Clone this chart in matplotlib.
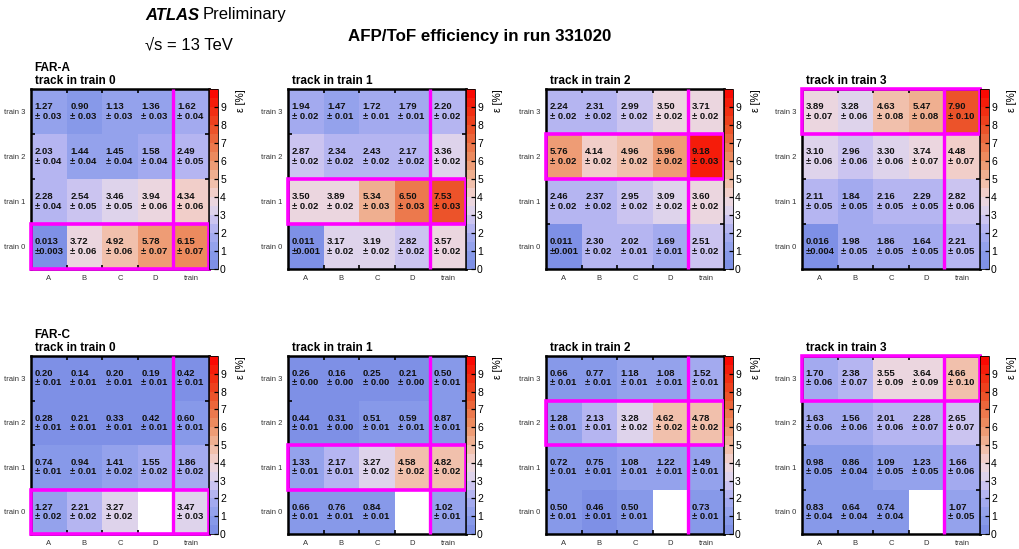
import numpy as np
import matplotlib
matplotlib.use("Agg")
import matplotlib.pyplot as plt
from matplotlib.colors import LinearSegmentedColormap, ListedColormap, BoundaryNorm
from matplotlib.patches import Rectangle

plt.rcParams['font.family'] = ['Liberation Sans', 'DejaVu Sans']

# columns / rows of every panel
col_labels = ['A', 'B', 'C', 'D', 'train']
row_labels = ['train 0', 'train 1', 'train 2', 'train 3']
stations = ['FAR-A', 'FAR-C']
nan = np.nan

# efficiency [%], rows = train 0..3, cols = A B C D train
far_a_t0 = [[0.013, 3.72, 4.92, 5.78, 6.15],
            [2.28, 2.54, 3.46, 3.94, 4.34],
            [2.03, 1.44, 1.45, 1.58, 2.49],
            [1.27, 0.90, 1.13, 1.36, 1.62]]
far_a_t0_err = [[0.003, 0.06, 0.06, 0.07, 0.07],
                [0.04, 0.05, 0.05, 0.06, 0.06],
                [0.04, 0.04, 0.04, 0.04, 0.05],
                [0.03, 0.03, 0.03, 0.03, 0.04]]
far_a_t1 = [[0.011, 3.17, 3.19, 2.82, 3.57],
            [3.50, 3.89, 5.34, 6.50, 7.53],
            [2.87, 2.34, 2.43, 2.17, 3.36],
            [1.94, 1.47, 1.72, 1.79, 2.20]]
far_a_t1_err = [[0.001, 0.02, 0.02, 0.02, 0.02],
                [0.02, 0.02, 0.03, 0.03, 0.03],
                [0.02, 0.02, 0.02, 0.02, 0.02],
                [0.02, 0.01, 0.01, 0.01, 0.02]]
far_a_t2 = [[0.011, 2.30, 2.02, 1.69, 2.51],
            [2.46, 2.37, 2.95, 3.09, 3.60],
            [5.76, 4.14, 4.96, 5.96, 9.18],
            [2.24, 2.31, 2.99, 3.50, 3.71]]
far_a_t2_err = [[0.001, 0.02, 0.01, 0.01, 0.02],
                [0.02, 0.02, 0.02, 0.02, 0.02],
                [0.02, 0.02, 0.02, 0.02, 0.03],
                [0.02, 0.02, 0.02, 0.02, 0.02]]
far_a_t3 = [[0.016, 1.98, 1.86, 1.64, 2.21],
            [2.11, 1.84, 2.16, 2.29, 2.82],
            [3.10, 2.96, 3.30, 3.74, 4.48],
            [3.89, 3.28, 4.63, 5.47, 7.90]]
far_a_t3_err = [[0.004, 0.05, 0.05, 0.05, 0.05],
                [0.05, 0.05, 0.05, 0.05, 0.06],
                [0.06, 0.06, 0.06, 0.07, 0.07],
                [0.07, 0.06, 0.08, 0.08, 0.10]]

far_c_t0 = [[1.27, 2.21, 3.27, nan, 3.47],
            [0.74, 0.94, 1.41, 1.55, 1.86],
            [0.28, 0.21, 0.33, 0.42, 0.60],
            [0.20, 0.14, 0.20, 0.19, 0.42]]
far_c_t0_err = [[0.02, 0.02, 0.02, nan, 0.03],
                [0.01, 0.01, 0.02, 0.02, 0.02],
                [0.01, 0.01, 0.01, 0.01, 0.01],
                [0.01, 0.01, 0.01, 0.01, 0.01]]
far_c_t1 = [[0.66, 0.76, 0.84, nan, 1.02],
            [1.33, 2.17, 3.27, 4.58, 4.82],
            [0.44, 0.31, 0.51, 0.59, 0.87],
            [0.26, 0.16, 0.25, 0.21, 0.50]]
far_c_t1_err = [[0.01, 0.01, 0.01, nan, 0.01],
                [0.01, 0.01, 0.02, 0.02, 0.02],
                [0.01, 0.00, 0.01, 0.01, 0.01],
                [0.00, 0.00, 0.00, 0.00, 0.01]]
far_c_t2 = [[0.50, 0.46, 0.50, nan, 0.73],
            [0.72, 0.75, 1.08, 1.22, 1.49],
            [1.28, 2.13, 3.28, 4.62, 4.78],
            [0.66, 0.77, 1.18, 1.08, 1.52]]
far_c_t2_err = [[0.01, 0.01, 0.01, nan, 0.01],
                [0.01, 0.01, 0.01, 0.01, 0.01],
                [0.01, 0.01, 0.02, 0.02, 0.02],
                [0.01, 0.01, 0.01, 0.01, 0.01]]
far_c_t3 = [[0.83, 0.64, 0.74, nan, 1.07],
            [0.98, 0.86, 1.09, 1.23, 1.66],
            [1.63, 1.56, 2.01, 2.28, 2.65],
            [1.70, 2.38, 3.55, 3.64, 4.66]]
far_c_t3_err = [[0.04, 0.04, 0.04, nan, 0.05],
                [0.05, 0.04, 0.05, 0.05, 0.06],
                [0.06, 0.06, 0.06, 0.07, 0.07],
                [0.06, 0.07, 0.09, 0.09, 0.10]]

panels = [
    [(far_a_t0, far_a_t0_err), (far_a_t1, far_a_t1_err), (far_a_t2, far_a_t2_err), (far_a_t3, far_a_t3_err)],
    [(far_c_t0, far_c_t0_err), (far_c_t1, far_c_t1_err), (far_c_t2, far_c_t2_err), (far_c_t3, far_c_t3_err)],
]

# blue - white - red palette, 20 levels between 0 and 10
anchors = [(0, (122, 140, 228)), (1, (140, 158, 235)), (2, (172, 175, 240)),
           (2.5, (192, 187, 242)), (3, (214, 205, 238)), (3.5, (230, 216, 233)),
           (4, (240, 212, 215)), (4.5, (242, 200, 186)), (5, (240, 184, 158)),
           (6, (237, 148, 104)), (7, (235, 112, 68)), (8, (236, 74, 34)),
           (9, (242, 38, 14)), (10, (252, 0, 0))]
smooth = LinearSegmentedColormap.from_list(
    'bwr_root', [(v / 10, tuple(c / 255 for c in rgb)) for v, rgb in anchors])
levels = np.linspace(0, 10, 21)
cmap = ListedColormap([smooth((l + 0.25) / 10) for l in levels[:-1]])
cmap.set_bad('white')
norm = BoundaryNorm(levels, cmap.N)

W, H = 1019, 549
fig = plt.figure(figsize=(W / 100, H / 100), dpi=100)

lefts = [31, 288, 546, 802]
tops = [89, 356]
pw, ph = 178, 180
cbw = 9


def fmt(v, e):
    if v < 0.05:
        return '%.3f\n\u00b1%.3f' % (v, e)
    return '%.2f\n\u00b1 %.2f' % (v, e)


for r, station in enumerate(stations):
    for c in range(4):
        vals, errs = panels[r][c]
        vals = np.array(vals, dtype=float)
        errs = np.array(errs, dtype=float)
        x0, y0 = lefts[c], tops[r]
        hh = ph if r == 0 else 178
        ax = fig.add_axes([x0 / W, 1 - (y0 + hh) / H, pw / W, hh / H])
        mesh = ax.pcolormesh(np.arange(6), np.arange(5), np.ma.masked_invalid(vals),
                             cmap=cmap, norm=norm)
        for i in range(4):
            for j in range(5):
                if np.isnan(vals[i, j]):
                    continue
                ax.text(j + 0.1, i + 0.5, fmt(vals[i, j], errs[i, j]),
                        ha='left', va='center', fontsize=6.8, fontweight='bold',
                        linespacing=1.05, color='#111111')
        ax.set_xlim(0, 5)
        ax.set_ylim(0, 4)
        ax.set_xticks(np.arange(5) + 0.5)
        ax.set_xticklabels(col_labels)
        ax.set_yticks(np.arange(4) + 0.5)
        ax.set_yticklabels(row_labels)
        ax.tick_params(which='major', length=0, labelsize=5.5, labelcolor='#333333', pad=4)
        ax.set_xticks([1, 2, 3, 4], minor=True)
        ax.set_yticks([1, 2, 3], minor=True)
        ax.tick_params(which='minor', direction='in', length=3, width=1.2,
                       top=True, right=True, color='black')
        for s in ax.spines.values():
            s.set_linewidth(1.8)
            s.set_color('black')

        # highlighted row and separator of the train column
        ax.plot([4, 4], [0, 4], color='#ff00ff', lw=2.4, solid_capstyle='butt',
                zorder=5, clip_on=False)
        ax.add_patch(Rectangle((0, c), 5, 1, fill=False, edgecolor='#ff00ff',
                               lw=2.6, zorder=6, clip_on=False))

        cax = fig.add_axes([(x0 + pw) / W, 1 - (y0 + hh) / H, cbw / W, hh / H])
        cb = fig.colorbar(mesh, cax=cax, ticks=np.arange(10))
        cb.outline.set_linewidth(0.6)
        cax.tick_params(direction='in', length=3, width=0.9, labelsize=7.5, pad=1.5,
                        colors='black')
        cax.minorticks_off()
        cax.text(3.6, 1.0, '\u03b5 [%]', rotation=90, ha='center', va='top',
                 fontsize=7.5, transform=cax.transAxes)

        ax.text(0.02, 1.01, 'track in train %d' % c, transform=ax.transAxes,
                ha='left', va='bottom', fontsize=8.5, fontweight='bold')
        if c == 0:
            ax.text(0.02, 1.085, station, transform=ax.transAxes,
                    ha='left', va='bottom', fontsize=8.5, fontweight='bold')

fig.text(145 / W, 1 - 15 / H, 'ATLAS', fontsize=12, fontweight='bold', style='italic',
         ha='left', va='center')
fig.text(203 / W, 1 - 15 / H, 'Preliminary', fontsize=12, ha='left', va='center')
fig.text(145 / W, 1 - 45 / H, '\u221as = 13 TeV', fontsize=12, ha='left', va='center')
fig.text(480 / W, 1 - 36 / H, 'AFP/ToF efficiency in run 331020', fontsize=12.2,
         fontweight='bold', ha='center', va='center')

fig.savefig('out.png', dpi=100)
